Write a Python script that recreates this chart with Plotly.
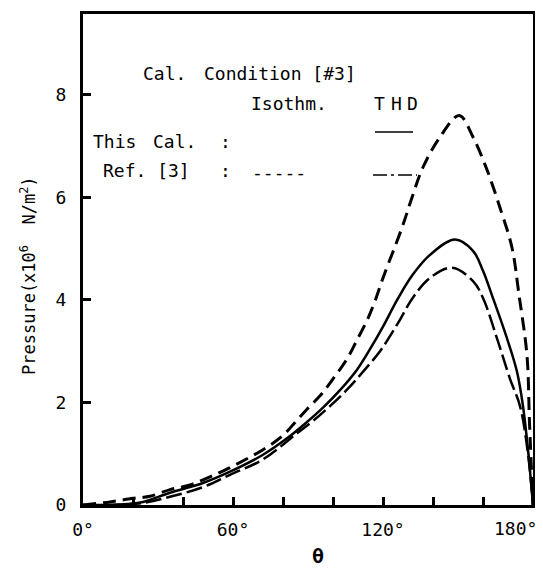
import plotly.graph_objects as go

# Isothermal, Ref.[3]  (dashed)
theta_iso_ref = [0, 10.8, 20, 26.8, 34.8, 42.8, 50.8, 58.8, 72, 79.6, 84.8, 89.6, 94.8, 100,
                 105.6, 109.6, 113.6, 116.8, 120, 127.6, 131.6, 136, 142.8, 150.5,
                 156, 161.6, 166.8, 171.6, 174.4, 177.6, 178.6, 180]
p_iso_ref = [0, 0.06, 0.13, 0.17, 0.30, 0.39, 0.55, 0.73, 1.08, 1.34, 1.61, 1.87, 2.13, 2.46,
             2.85, 3.22, 3.6, 3.98, 4.43, 5.41, 6.0, 6.59, 7.18, 7.6,
             7.18, 6.54, 5.8, 5.02, 4.1, 2.91, 1.6, 0]

# THD, This Cal. (solid)
theta_thd_cal = [0, 10, 18, 24, 34.8, 48, 58.8, 72, 81.6, 89.6, 96, 102.8, 109.6, 114.8, 120,
                 126, 132, 138.8, 148.8, 156, 160, 163.6, 169.6, 173.6, 176, 178, 180]
p_thd_cal = [0, 0, 0.02, 0.06, 0.24, 0.43, 0.65, 0.98, 1.3, 1.62, 1.9, 2.24, 2.64, 3.04, 3.48,
             4.03, 4.5, 4.88, 5.18, 4.96, 4.57, 4.09, 3.25, 2.6, 1.93, 1.08, 0]

# THD, Ref.[3] (dash-dot)
theta_thd_ref = [0, 12, 24, 34.8, 48, 58.8, 72, 85.6, 92, 98.8, 105.6, 112, 118.8, 126, 132,
                 138.8, 147.6, 156, 160, 165.6, 170.8, 174.8, 178, 180]
p_thd_ref = [0, 0, 0.04, 0.16, 0.35, 0.59, 0.89, 1.4, 1.64, 1.93, 2.25, 2.6, 3.0, 3.55, 4.05,
             4.43, 4.63, 4.37, 4.04, 3.25, 2.46, 1.93, 1.0, 0]

x_tickvals = [0, 20, 40, 60, 80, 100, 120, 140, 160, 180]
x_ticktext = ["0°", "", "", "60°", "", "", "120°", "", "", ""]
y_tickvals = [0, 2, 4, 6, 8]
y_ticktext = ["0", "2", "4", "6", "8"]

FONT = "DejaVu Sans Mono"
FS = 18

fig = go.Figure()
fig.add_trace(go.Scatter(x=theta_iso_ref, y=p_iso_ref, mode="lines", line_shape="spline",
                         line=dict(color="black", width=3, dash="13px,7px")))
fig.add_trace(go.Scatter(x=theta_thd_cal, y=p_thd_cal, mode="lines", line_shape="spline",
                         line=dict(color="black", width=2.5)))
fig.add_trace(go.Scatter(x=theta_thd_ref, y=p_thd_ref, mode="lines", line_shape="spline",
                         line=dict(color="black", width=2.5, dash="16px,5px")))

# page body has an 8px margin: figure is placed at (8, 8) in the window
fig.update_layout(
    width=535, height=563,
    margin=dict(l=75, r=10, t=6, b=66),
    paper_bgcolor="white", plot_bgcolor="white",
    showlegend=False,
    font=dict(family=FONT, size=FS, color="black"),
)
fig.update_xaxes(range=[0, 180], tickvals=x_tickvals, ticktext=x_ticktext,
                 ticks="inside", ticklen=8, tickwidth=3, tickcolor="black",
                 showline=True, linecolor="black", linewidth=3, mirror=True,
                 showgrid=False, zeroline=False, ticklabelstandoff=6, automargin=False)
fig.update_yaxes(range=[0, 9.58], tickvals=y_tickvals, ticktext=y_ticktext,
                 ticks="inside", ticklen=8, tickwidth=3, tickcolor="black",
                 showline=True, linecolor="black", linewidth=3, mirror=True,
                 showgrid=False, zeroline=False, ticklabelstandoff=10, automargin=False)

def px2paper(px, py):
    # window pixel -> paper fraction (plot area spans x 83..533, y 14..505 in the window)
    return (px - 83) / 450.0, (505 - py) / 491.0

texts = [
    ("Cal.", 142, 73, "left"), ("Condition [#3]", 203, 73, "left"),
    ("Isothm.", 250, 103, "left"),
    ("T", 379, 103, "center"), ("H", 396, 103, "center"), ("D", 412, 103, "center"),
    ("This", 92, 141, "left"), ("Cal.", 152, 141, "left"), (":", 219, 141, "left"),
    ("Ref. [3]", 102, 170, "left"), (":", 219, 170, "left"), ("-----", 251, 172, "left"),
]
for t, px, py, anc in texts:
    x, y = px2paper(px, py)
    fig.add_annotation(text=t, x=x, y=y, xref="paper", yref="paper", xanchor=anc,
                       yanchor="middle", showarrow=False, borderpad=0,
                       font=dict(family=FONT, size=FS))

# 180° tick label
x, y = px2paper(538, 528)
fig.add_annotation(text="180°", x=x, y=y, xref="paper", yref="paper", xanchor="right",
                   yanchor="middle", showarrow=False, borderpad=0,
                   font=dict(family=FONT, size=FS))

# legend samples for THD
x0, y0 = px2paper(375, 132); x1, _ = px2paper(413, 132)
fig.add_shape(type="line", xref="paper", yref="paper", x0=x0, x1=x1, y0=y0, y1=y0,
              line=dict(color="black", width=1.5))
x0, y0 = px2paper(373, 175); x1, _ = px2paper(417, 175)
fig.add_shape(type="line", xref="paper", yref="paper", x0=x0, x1=x1, y0=y0, y1=y0,
              line=dict(color="black", width=1.5, dash="14px,4px,3px,4px"))

# axis titles
x, y = px2paper(28, 276)
fig.add_annotation(text="Pressure(x10<sup>6</sup>  N/m<sup>2</sup>)", x=x, y=y, xref="paper",
                   yref="paper", textangle=-90, showarrow=False, xanchor="center",
                   yanchor="middle", font=dict(family=FONT, size=17))
x, y = px2paper(318, 556)
fig.add_annotation(text="<b>θ</b>", x=x, y=y, xref="paper", yref="paper", showarrow=False,
                   xanchor="center", yanchor="middle", font=dict(family=FONT, size=20))

fig.write_html("out.html")
